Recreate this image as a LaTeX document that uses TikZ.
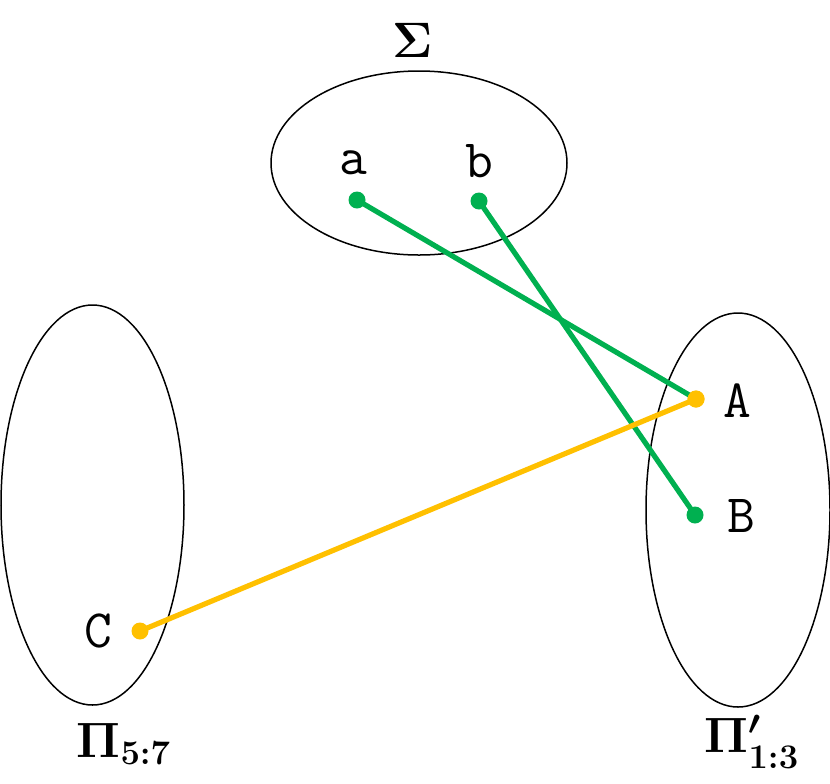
\documentclass[tikz,border=0pt]{standalone}
\usepackage{tikz}
\usetikzlibrary{shapes.geometric}

\begin{document}
\begin{tikzpicture}[
    x=0.5pt, y=-0.5pt,
    set/.style={draw, ellipse, line width=0.75pt, inner sep=0pt},
    dot/.style={circle, inner sep=0pt, minimum size=8.5pt},
    elem/.style={font=\fontsize{27}{27}\ttfamily\selectfont},
    title/.style={font=\fontsize{26}{26}\selectfont\boldmath},
    gmap/.style={line width=2.6pt, draw=mapgreen},
    omap/.style={line width=2.6pt, draw=maporange}
]
\definecolor{mapgreen}{RGB}{0,176,80}
\definecolor{maporange}{RGB}{255,192,0}
\useasboundingbox (0,0) rectangle (830,783);

% sets
\node[set, minimum width=148pt, minimum height=92pt] (sigma) at (419,163) {};
\node[set, minimum width=91.5pt, minimum height=200pt] (pileft) at (92.5,505) {};
\node[set, minimum width=92pt, minimum height=197pt] (piright) at (738,510) {};
\node[title] (sigmalab) at (413,40) {$\mathbf{\Sigma}$};
\node[title] (pileftlab) at (124,744) {$\mathbf{\Pi_{5:7}}$};
\node[title] (pirightlab) at (752,742) {$\mathbf{\Pi'_{1:3}}$};

% elements
\node[dot, fill=mapgreen] (a) at (357,200) {};
\node[dot, fill=mapgreen] (b) at (479,201) {};
\node[dot, fill=maporange] (A) at (696,399) {};
\node[dot, fill=mapgreen] (B) at (695,515) {};
\node[dot, fill=maporange] (C) at (140,631) {};
\node[elem] at (353,163) {a};
\node[elem] at (479,161) {b};
\node[elem] at (737,401) {A};
\node[elem] at (741,516) {B};
\node[elem] at (98,631) {C};

% maps
\draw[gmap] (a.center) -- (A.center);
\draw[gmap] (b.center) -- (B.center);
\draw[omap] (C.center) -- (A.center);
\node[dot, fill=maporange] at (A) {};
\end{tikzpicture}
\end{document}
